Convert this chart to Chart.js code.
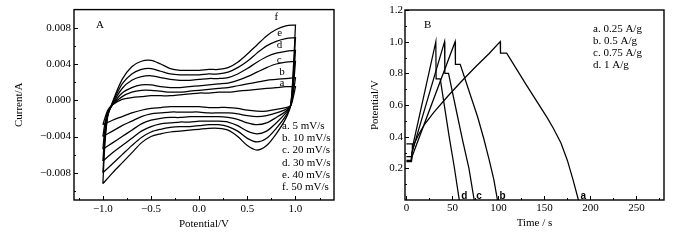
<!DOCTYPE html>
<html>
<head>
<meta charset="utf-8">
<title>CV and GCD</title>
<script src="https://cdn.jsdelivr.net/npm/chart.js@4.4.1/dist/chart.umd.min.js"></script>
<style>
  html, body { margin: 0; padding: 0; background: #fff; }
  .wrap { position: relative; width: 700px; height: 240px; }
  .panel { position: absolute; top: 0; width: 350px; height: 240px; }
</style>
</head>
<body>
<div class="wrap">
  <div class="panel" style="left:0"><canvas id="cvChart"></canvas></div>
  <div class="panel" style="left:350px"><canvas id="gcdChart"></canvas></div>
</div>
<script>
// ================================
// Data - panel A (cyclic voltammetry)
// ================================
const cvPotentialFwd = [-1.0, -0.98, -0.95, -0.9, -0.8, -0.7, -0.6, -0.5, -0.4, -0.3, -0.2, -0.1, 0.0, 0.1, 0.2, 0.3, 0.4, 0.5, 0.6, 0.7, 0.8, 0.9, 1.0];
const cvPotentialRev = [1.0, 0.98, 0.95, 0.9, 0.8, 0.7, 0.6, 0.5, 0.4, 0.3, 0.2, 0.1, 0.0, -0.1, -0.2, -0.3, -0.4, -0.5, -0.6, -0.7, -0.8, -0.9, -1.0];

const cvFwdF = [-0.0092, -0.0050, -0.0018, -0.0002, 0.0023, 0.0037, 0.0043, 0.0044, 0.0040, 0.0035, 0.0033, 0.0033, 0.0033, 0.0034, 0.0034, 0.0036, 0.0042, 0.0051, 0.0061, 0.0071, 0.0078, 0.0082, 0.0083];
const cvFwdE = [-0.0080, -0.0045, -0.0017, -0.0003, 0.0018, 0.0029, 0.0034, 0.0035, 0.0032, 0.0029, 0.0028, 0.0028, 0.0028, 0.0029, 0.0029, 0.0031, 0.0036, 0.0043, 0.0052, 0.0060, 0.0065, 0.0068, 0.0069];
const cvFwdD = [-0.0067, -0.0038, -0.0016, -0.0004, 0.0013, 0.0022, 0.0026, 0.0027, 0.0025, 0.0023, 0.0022, 0.0022, 0.0023, 0.0024, 0.0024, 0.0025, 0.0029, 0.0035, 0.0042, 0.0048, 0.0052, 0.0054, 0.0055];
const cvFwdC = [-0.0054, -0.0032, -0.0015, -0.0005, 0.0008, 0.0014, 0.0017, 0.0017, 0.0015, 0.0014, 0.0014, 0.0015, 0.0016, 0.0017, 0.0018, 0.0019, 0.0022, 0.0026, 0.0031, 0.0036, 0.0040, 0.0042, 0.0043];
const cvFwdB = [-0.0040, -0.0026, -0.0013, -0.0005, 0.0004, 0.0009, 0.0011, 0.0011, 0.0010, 0.0009, 0.0009, 0.0010, 0.0011, 0.0012, 0.0013, 0.0014, 0.0016, 0.0018, 0.0020, 0.0022, 0.0023, 0.0024, 0.0025];
const cvFwdA = [-0.0027, -0.0020, -0.0011, -0.0005, 0.0001, 0.0003, 0.0004, 0.0005, 0.0005, 0.0005, 0.0006, 0.0007, 0.0008, 0.0008, 0.0009, 0.0009, 0.0010, 0.0011, 0.0012, 0.0013, 0.0014, 0.0015, 0.0015];

const cvRevF = [0.0083, 0.0040, -0.0005, -0.0020, -0.0037, -0.0050, -0.0055, -0.0050, -0.0040, -0.0033, -0.0031, -0.0031, -0.0032, -0.0033, -0.0034, -0.0035, -0.0037, -0.0040, -0.0047, -0.0058, -0.0069, -0.0080, -0.0092];
const cvRevE = [0.0069, 0.0033, -0.0005, -0.0017, -0.0031, -0.0042, -0.0046, -0.0042, -0.0034, -0.0029, -0.0027, -0.0027, -0.0028, -0.0029, -0.0029, -0.0030, -0.0032, -0.0035, -0.0041, -0.0050, -0.0060, -0.0070, -0.0080];
const cvRevD = [0.0055, 0.0025, -0.0006, -0.0014, -0.0025, -0.0034, -0.0037, -0.0034, -0.0028, -0.0024, -0.0023, -0.0023, -0.0023, -0.0024, -0.0024, -0.0025, -0.0026, -0.0029, -0.0034, -0.0042, -0.0050, -0.0058, -0.0067];
const cvRevC = [0.0043, 0.0018, -0.0006, -0.0012, -0.0019, -0.0025, -0.0027, -0.0025, -0.0021, -0.0019, -0.0018, -0.0018, -0.0018, -0.0018, -0.0019, -0.0019, -0.0020, -0.0022, -0.0026, -0.0033, -0.0040, -0.0047, -0.0054];
const cvRevB = [0.0025, 0.0010, -0.0006, -0.0010, -0.0014, -0.0017, -0.0018, -0.0017, -0.0015, -0.0014, -0.0014, -0.0014, -0.0013, -0.0013, -0.0013, -0.0013, -0.0014, -0.0015, -0.0018, -0.0023, -0.0028, -0.0034, -0.0040];
const cvRevA = [0.0015, 0.0005, -0.0006, -0.0008, -0.0010, -0.0012, -0.0012, -0.0011, -0.0009, -0.0008, -0.0008, -0.0008, -0.0007, -0.0007, -0.0007, -0.0007, -0.0008, -0.0009, -0.0011, -0.0014, -0.0018, -0.0022, -0.0027];

const cvRates = ['a. 5 mV/s', 'b. 10 mV/s', 'c. 20 mV/s', 'd. 30 mV/s', 'e. 40 mV/s', 'f. 50 mV/s'];
const cvPotentialTicks = [-1.0, -0.5, 0.0, 0.5, 1.0];
const cvPotentialMinor = [-1.25, -0.75, -0.25, 0.25, 0.75, 1.25];
const cvCurrentTicks = [-0.008, -0.004, 0.000, 0.004, 0.008];
const cvCurrentMinor = [-0.010, -0.006, -0.002, 0.002, 0.006];

// ================================
// Data - panel B (charge / discharge)
// ================================
const gcdTimeA = [0, 5, 6.5, 9, 13, 20, 30, 45, 60, 75, 90, 102, 102.3, 109, 130, 153, 160, 168, 175, 181, 187];
const gcdVoltA = [0.25, 0.25, 0.31, 0.36, 0.41, 0.48, 0.555, 0.655, 0.75, 0.84, 0.925, 1.0, 0.927, 0.927, 0.73, 0.52, 0.45, 0.36, 0.25, 0.13, 0];
const gcdTimeB = [0, 5.5, 6.5, 53, 53.3, 58.5, 68, 77.4, 84, 90, 95, 99];
const gcdVoltB = [0.242, 0.242, 0.28, 1.0, 0.857, 0.857, 0.69, 0.526, 0.39, 0.253, 0.13, 0];
const gcdTimeC = [0, 5.5, 6, 41.5, 41.8, 45.8, 53, 61, 68, 73.7];
const gcdVoltC = [0.274, 0.274, 0.30, 1.0, 0.80, 0.80, 0.60, 0.38, 0.20, 0];
const gcdTimeD = [0, 6.5, 6.5, 32, 32.3, 36.8, 46.5, 52, 57.5];
const gcdVoltD = [0.354, 0.354, 0.33, 1.0, 0.765, 0.765, 0.40, 0.21, 0];

const gcdCurrents = ['a. 0.25 A/g', 'b. 0.5 A/g', 'c. 0.75 A/g', 'd. 1 A/g'];
const gcdTimeTicks = [0, 50, 100, 150, 200, 250];
const gcdTimeMinor = [25, 75, 125, 175, 225, 275];
const gcdVoltTicks = [0.2, 0.4, 0.6, 0.8, 1.0, 1.2];
const gcdVoltMinor = [0.1, 0.3, 0.5, 0.7, 0.9, 1.1];

// ================================
// Helpers
// ================================
Chart.defaults.font.family = '"Liberation Serif", "Times New Roman", serif';
Chart.defaults.font.size = 11;
Chart.defaults.color = '#000';

const SERIF = '11px "Liberation Serif", serif';
const SANS = 'bold 10px "Liberation Sans", Arial, sans-serif';

function fmt(v, d) {
    return (v < -1e-9 ? '\u2212' : '') + Math.abs(v).toFixed(d);
}

function pairs(xs, ys) {
    return xs.map((x, i) => ({ x: x, y: ys[i] }));
}

function cvLoop(fwd, rev) {
    return pairs(cvPotentialFwd, fwd).concat(pairs(cvPotentialRev, rev));
}

function lineSet(data, tension) {
    return {
        data: data,
        showLine: true,
        borderColor: '#000',
        borderWidth: 1.25,
        pointRadius: 0,
        tension: tension,
        fill: false
    };
}

// frame, inner tick marks and annotations
const panelPlugin = {
    id: 'panel',
    afterDraw(chart, args, opts) {
        const { ctx, chartArea: area, scales } = chart;
        const xs = scales.x, ys = scales.y;
        ctx.save();
        ctx.strokeStyle = '#000';
        ctx.lineWidth = 1;
        ctx.beginPath();
        const xTick = (v, len) => {
            const px = Math.round(xs.getPixelForValue(v)) + 0.5;
            ctx.moveTo(px, area.bottom);
            ctx.lineTo(px, area.bottom - len);
        };
        const yTick = (v, len) => {
            const py = Math.round(ys.getPixelForValue(v)) + 0.5;
            ctx.moveTo(area.left, py);
            ctx.lineTo(area.left + len, py);
        };
        opts.xMajor.forEach(v => xTick(v, 4));
        opts.xMinor.forEach(v => xTick(v, 2));
        opts.yMajor.forEach(v => yTick(v, 4));
        opts.yMinor.forEach(v => yTick(v, 2));
        ctx.stroke();

        ctx.lineWidth = 1.4;
        ctx.strokeRect(area.left, area.top, area.right - area.left, area.bottom - area.top);

        ctx.fillStyle = '#000';
        ctx.textBaseline = 'middle';
        opts.texts.forEach(t => {
            ctx.font = t.font || SERIF;
            ctx.textAlign = t.align || 'left';
            let x = t.x, y = t.y;
            if (t.data) {
                x = xs.getPixelForValue(t.x) + (t.dx || 0);
                y = ys.getPixelForValue(t.y) + (t.dy || 0);
            }
            ctx.fillText(t.text, x, y);
        });
        ctx.restore();
    }
};

function axisX(min, max, ticks, digits, title, tickPad, titlePad) {
    return {
        type: 'linear', min: min, max: max,
        afterBuildTicks: s => { s.ticks = ticks.map(v => ({ value: v })); },
        ticks: { padding: tickPad, autoSkip: false, maxRotation: 0, callback: v => fmt(v, digits) },
        grid: { display: false, drawTicks: false },
        border: { display: false },
        title: { display: true, text: title, padding: { top: 0, bottom: titlePad } },
        afterFit: s => { s.height = 40; }
    };
}

function axisY(min, max, ticks, digits, title, tickPad, titlePad, width) {
    return {
        type: 'linear', min: min, max: max,
        afterBuildTicks: s => { s.ticks = ticks.map(v => ({ value: v })); },
        ticks: { padding: tickPad, autoSkip: false, callback: v => fmt(v, digits) },
        grid: { display: false, drawTicks: false },
        border: { display: false },
        title: { display: true, text: title, padding: { top: titlePad, bottom: 0 } },
        afterFit: s => { s.width = width; }
    };
}

// ================================
// Panel A
// ================================
const cvLabelAt = [
    { text: 'f', x: 0.80, y: 0.0092 },
    { text: 'e', x: 0.835, y: 0.00745 },
    { text: 'd', x: 0.835, y: 0.00605 },
    { text: 'c', x: 0.83, y: 0.00448 },
    { text: 'b', x: 0.86, y: 0.00311 },
    { text: 'a', x: 0.86, y: 0.00184 }
];

new Chart(document.getElementById('cvChart'), {
    type: 'scatter',
    data: {
        datasets: [
            lineSet(cvLoop(cvFwdF, cvRevF), 0.3),
            lineSet(cvLoop(cvFwdE, cvRevE), 0.3),
            lineSet(cvLoop(cvFwdD, cvRevD), 0.3),
            lineSet(cvLoop(cvFwdC, cvRevC), 0.3),
            lineSet(cvLoop(cvFwdB, cvRevB), 0.3),
            lineSet(cvLoop(cvFwdA, cvRevA), 0.3)
        ]
    },
    plugins: [panelPlugin],
    options: {
        responsive: true,
        maintainAspectRatio: false,
        animation: false,
        events: [],
        layout: { padding: { left: 0, top: 9, right: 16, bottom: 0 } },
        scales: {
            x: axisX(-1.3, 1.4, cvPotentialTicks, 1, 'Potential/V', 3, 9.4),
            y: axisY(-0.011, 0.010, cvCurrentTicks, 3, 'Current/A', 3, 13, 74)
        },
        plugins: {
            legend: { display: false },
            tooltip: { enabled: false },
            panel: {
                xMajor: cvPotentialTicks, xMinor: cvPotentialMinor,
                yMajor: cvCurrentTicks, yMinor: cvCurrentMinor,
                texts: [{ text: 'A', x: 96, y: 25 }]
                    .concat(cvRates.map((t, i) => ({ text: t, x: 282, y: 126 + i * 12.3 })))
                    .concat(cvLabelAt.map(l => ({ text: l.text, x: l.x, y: l.y, data: true, align: 'center' })))
            }
        }
    }
});

// ================================
// Panel B
// ================================
const gcdEnds = [
    { text: 'a', t: 187 },
    { text: 'b', t: 99 },
    { text: 'c', t: 73.7 },
    { text: 'd', t: 57.5 }
];

new Chart(document.getElementById('gcdChart'), {
    type: 'scatter',
    data: {
        datasets: [
            lineSet(pairs(gcdTimeA, gcdVoltA), 0),
            lineSet(pairs(gcdTimeB, gcdVoltB), 0),
            lineSet(pairs(gcdTimeC, gcdVoltC), 0),
            lineSet(pairs(gcdTimeD, gcdVoltD), 0)
        ]
    },
    plugins: [panelPlugin],
    options: {
        responsive: true,
        maintainAspectRatio: false,
        animation: false,
        events: [],
        layout: { padding: { left: 0, top: 10, right: 36, bottom: 0 } },
        scales: {
            x: axisX(-1.5, 280, gcdTimeTicks, 0, 'Time / s', 2, 10.4),
            y: axisY(0, 1.2, gcdVoltTicks, 1, 'Potential/V', 2, 18.4, 55)
        },
        plugins: {
            legend: { display: false },
            tooltip: { enabled: false },
            panel: {
                xMajor: gcdTimeTicks, xMinor: gcdTimeMinor,
                yMajor: gcdVoltTicks, yMinor: gcdVoltMinor,
                texts: [{ text: 'B', x: 74, y: 25 }]
                    .concat(gcdCurrents.map((t, i) => ({ text: t, x: 243, y: 29.5 + i * 11.9 })))
                    .concat(gcdEnds.map(e => ({ text: e.text, x: e.t, y: 0, data: true, dx: 2, dy: -4, font: SANS })))
            }
        }
    }
});
</script>
</body>
</html>
